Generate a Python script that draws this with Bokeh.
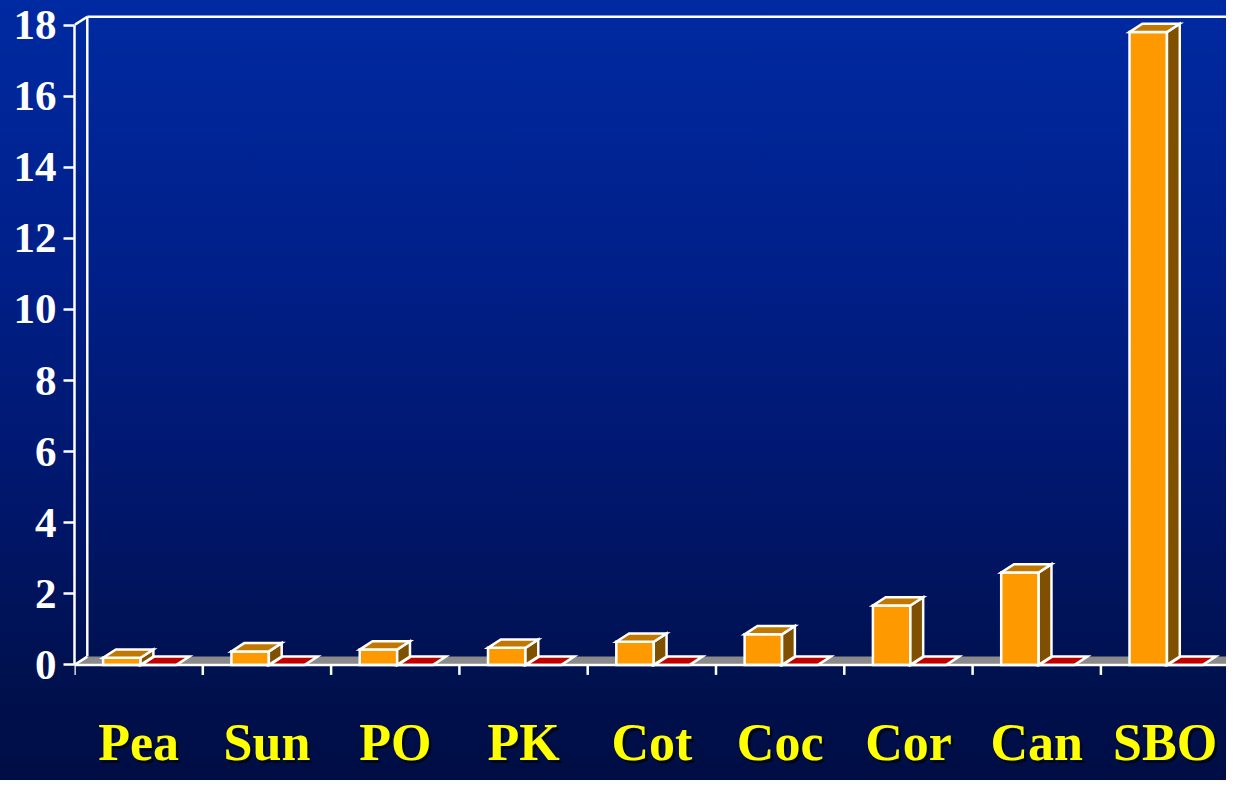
from bokeh.plotting import figure
from bokeh.models import FixedTicker, Range1d
from bokeh.core.properties import value
from bokeh.embed import file_html
from bokeh.resources import INLINE

# ---- data ----
categories = ["Pea", "Sun", "PO", "PK", "Cot", "Coc", "Cor", "Can", "SBO"]
series_a = [0.2, 0.38, 0.43, 0.48, 0.65, 0.86, 1.67, 2.6, 17.8]
series_b = [0, 0, 0, 0, 0, 0, 0, 0, 0]
y_ticks = [0, 2, 4, 6, 8, 10, 12, 14, 16, 18]

# ---- layout constants ----
W, H = 1226, 780
LEFT = 74
PX_X = 128.3          # pixels per category
PX_Y = 35.55          # pixels per unit
ZERO_PX = 664.4       # distance of value 0 from the top of the canvas
frame_w = W - LEFT
x_end = frame_w / PX_X
y_end = ZERO_PX / PX_Y
y_start = -(H - ZERO_PX) / PX_Y
DX = 12.8 / PX_X      # 3D depth offset
DY = 8.3 / PX_Y
TICK = 10 / PX_Y
LABEL_Y = -(742 - ZERO_PX) / PX_Y
SH_X = 2.5 / PX_X
SH_Y = 2.5 / PX_Y
Y_MAX = 18

p = figure(width=W, height=H, output_backend="svg", toolbar_location=None,
           x_range=Range1d(0, x_end), y_range=Range1d(y_start, y_end),
           min_border_left=LEFT, min_border_bottom=0,
           min_border_top=0, min_border_right=0,
           background_fill_color=None, border_fill_color=None,
           outline_line_color=None)
p.styles = {"background": "linear-gradient(180deg, #002aa2 0%, #001f88 35%, "
                          "#00166a 65%, #001150 86%, #000d44 100%)"}
p.grid.visible = False
p.xaxis.visible = False

WL = "white"
LW = 2.5

# ---- back wall ----
p.line([DX, DX], [DY, Y_MAX + DY], line_color=WL, line_width=LW)
p.line([DX, x_end + 1], [Y_MAX + DY, Y_MAX + DY], line_color=WL, line_width=LW)
p.line([0, DX], [Y_MAX, Y_MAX + DY], line_color=WL, line_width=LW)

# ---- floor ----
p.patch([0, x_end + 1, x_end + 1 + DX, DX], [0, 0, DY, DY],
        fill_color="#8a8a8a", line_color=None)
p.line([0, DX], [0, DY], line_color=WL, line_width=LW)


def boxes(values, offset, width, front, top, side):
    xs_f, ys_f, xs_t, ys_t, xs_s, ys_s = [], [], [], [], [], []
    for i, v in enumerate(values):
        x0 = i + offset
        x1 = x0 + width
        xs_t.append([x0, x1, x1 + DX, x0 + DX])
        ys_t.append([v, v, v + DY, v + DY])
        if v > 0:
            xs_f.append([x0, x1, x1, x0])
            ys_f.append([0, 0, v, v])
            xs_s.append([x1, x1 + DX, x1 + DX, x1])
            ys_s.append([0, DY, v + DY, v])
    if xs_f:
        p.patches(xs_f, ys_f, fill_color=front, line_color=WL, line_width=LW,
                  line_join="miter")
        p.patches(xs_s, ys_s, fill_color=side, line_color=WL, line_width=LW,
                  line_join="miter")
    p.patches(xs_t, ys_t, fill_color=top, line_color=WL, line_width=LW,
              line_join="miter")


# second series (flat, zero) first, then the orange bars over it
boxes(series_b, 0.52, 0.275, "#ff0000", "#c00000", "#800000")
boxes(series_a, 0.223, 0.292, "#ff9900", "#c07800", "#7f5000")

# ---- category axis (front floor edge + ticks between categories) ----
n = len(categories)
p.line([0, x_end + 1], [0, 0], line_color=WL, line_width=LW)
p.segment(x0=list(range(n)), y0=[0] * n, x1=list(range(n)), y1=[-TICK] * n,
          line_color=WL, line_width=LW)

# ---- value axis ----
yax = p.yaxis[0]
yax.ticker = FixedTicker(ticks=y_ticks)
yax.bounds = (0, Y_MAX)
yax.axis_line_color = WL
yax.axis_line_width = LW
yax.major_tick_line_color = WL
yax.major_tick_line_width = LW
yax.major_tick_out = 11
yax.major_tick_in = 0
yax.minor_tick_line_color = None
yax.major_label_text_color = "white"
yax.major_label_text_font = "Liberation Serif"
yax.major_label_text_font_style = "bold"
yax.major_label_text_font_size = "43px"
yax.major_label_standoff = 7

# ---- category labels (with shadow) ----
cx = [i + 0.5 for i in range(n)]
common = dict(text_align="center", text_baseline="alphabetic",
              text_font=value("Liberation Serif"), text_font_style="bold",
              text_font_size="52px")
p.text(x=[c + SH_X for c in cx], y=[LABEL_Y - SH_Y] * n, text=categories,
       text_color="#000818", **common)
p.text(x=cx, y=[LABEL_Y] * n, text=categories, text_color="#ffff00", **common)

open("out.html", "w").write(file_html(p, INLINE))
